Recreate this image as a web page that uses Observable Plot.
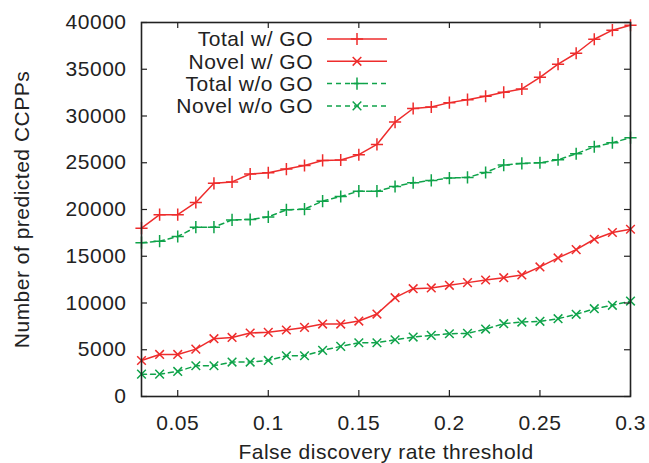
<!DOCTYPE html>
<html>
<head>
<meta charset="utf-8">
<script src="https://cdn.jsdelivr.net/npm/d3@7"></script>
<script src="https://cdn.jsdelivr.net/npm/@observablehq/plot@0.6"></script>
<style>
  html, body { margin: 0; padding: 0; background: #fff; }
  svg { font-family: "Liberation Sans", Arial, sans-serif; }
</style>
</head>
<body>
<div id="chart"></div>
<script>
const fdr = [0.03,0.04,0.05,0.06,0.07,0.08,0.09,0.10,0.11,0.12,0.13,0.14,0.15,0.16,0.17,0.18,0.19,0.20,0.21,0.22,0.23,0.24,0.25,0.26,0.27,0.28,0.29,0.30];
const totalWithGO = [18000,19450,19450,20750,22800,22950,23800,23930,24320,24710,25250,25290,25860,26960,29350,30800,30960,31430,31750,32110,32540,32890,34140,35540,36710,38210,39180,39710];
const novelWithGO = [3850,4500,4500,5070,6180,6320,6790,6860,7110,7390,7750,7750,8070,8820,10570,11530,11610,11890,12180,12460,12710,13000,13860,14820,15710,16820,17540,17890];
const totalWithoutGO = [16450,16610,17110,18110,18110,18890,18930,19210,19960,20040,20890,21390,21960,21960,22460,22860,23110,23360,23430,23960,24750,24930,25000,25320,25960,26710,27140,27680];
const novelWithoutGO = [2390,2390,2680,3290,3290,3680,3680,3860,4360,4360,4930,5360,5750,5750,6070,6360,6540,6710,6750,7210,7790,7960,8040,8320,8790,9390,9750,10210];

const seriesNames = ["Total w/ GO", "Novel w/ GO", "Total w/o GO", "Novel w/o GO"];
const xTicks = [0.05, 0.1, 0.15, 0.2, 0.25, 0.3];
const xTickLabels = ["0.05", "0.1", "0.15", "0.2", "0.25", "0.3"];
const yTicks = [0,5000,10000,15000,20000,25000,30000,35000,40000];
const xLabel = "False discovery rate threshold";
const yLabel = "Number of predicted CCPPs";

const RED = "#ee2c2c";
const GREEN = "#0fa34a";
const styles = [
  {color: RED, dash: null, symbol: "plus"},
  {color: RED, dash: null, symbol: "times"},
  {color: GREEN, dash: "5,4", symbol: "plus"},
  {color: GREEN, dash: "5,4", symbol: "times"}
];
const valuesList = [totalWithGO, novelWithGO, totalWithoutGO, novelWithoutGO];
const tables = valuesList.map((vals, i) => fdr.map((x, j) => ({x, y: vals[j], series: seriesNames[i]})));

const W = 649, H = 463;
const mL = 141, mR = 19, mT = 22, mB = 67;
const innerW = W - mL - mR, innerH = H - mT - mB;
const TICK = 6;
const FS = 21;
const LS = "0.5px";

const marks = [];
tables.forEach((t, i) => {
  const s = styles[i];
  marks.push(Plot.line(t, {x: "x", y: "y", stroke: s.color, strokeWidth: 1.5, strokeDasharray: s.dash}));
  marks.push(Plot.dot(t, {x: "x", y: "y", stroke: s.color, symbol: () => s.symbol, r: 4, strokeWidth: 1.5}));
});

// inward ticks on all four sides
marks.push(Plot.ruleX(xTicks, {x: d => d, insetTop: innerH - TICK, stroke: "#222", strokeWidth: 1.2}));
marks.push(Plot.ruleX(xTicks, {x: d => d, insetBottom: innerH - TICK, stroke: "#222", strokeWidth: 1.2}));
marks.push(Plot.ruleY(yTicks, {y: d => d, insetRight: innerW - TICK, stroke: "#222", strokeWidth: 1.2}));
marks.push(Plot.ruleY(yTicks, {y: d => d, insetLeft: innerW - TICK, stroke: "#222", strokeWidth: 1.2}));
marks.push(Plot.frame({stroke: "#222", strokeWidth: 1.6}));

marks.push(Plot.axisX(xTicks, {tickSize: 0, tickPadding: 19, tickFormat: (d, i) => xTickLabels[i], label: null, fontSize: FS}));
marks.push(Plot.axisY(yTicks, {tickSize: 0, tickPadding: 15, tickFormat: d => String(d), label: null, fontSize: FS}));
marks.push(Plot.text([xLabel], {text: d => d, frameAnchor: "bottom", textAnchor: "middle", dy: 62, fontSize: FS, fill: "#222"}));
marks.push(Plot.text([yLabel], {text: d => d, frameAnchor: "left", textAnchor: "middle", dx: -119, rotate: -90, fontSize: FS, fill: "#222"}));

const chart = Plot.plot({
  width: W, height: H,
  marginLeft: mL, marginRight: mR, marginTop: mT, marginBottom: mB,
  x: {domain: [0.03, 0.3]},
  y: {domain: [0, 40000]},
  style: {fontFamily: "'Liberation Sans', Arial, sans-serif", fontSize: FS + "px", color: "#222", background: "#fff", letterSpacing: LS},
  marks
});
document.getElementById("chart").appendChild(chart);

// legend (inside plot, top-left)
const svg = d3.select(chart);
const lg = svg.append("g").attr("class", "legend");
seriesNames.forEach((name, i) => {
  const s = styles[i];
  const cy = 39 + i * 22.3;
  lg.append("text").attr("x", 313).attr("y", cy).attr("dy", "0.35em").attr("text-anchor", "end")
    .attr("font-size", FS).attr("letter-spacing", LS).attr("fill", "#222").text(name);
  lg.append("line").attr("x1", 327).attr("x2", 387).attr("y1", cy).attr("y2", cy)
    .attr("stroke", s.color).attr("stroke-width", 1.5).attr("stroke-dasharray", s.dash);
  const sym = s.symbol === "plus" ? d3.symbolPlus : d3.symbolTimes;
  lg.append("path").attr("transform", `translate(357,${cy})`).attr("d", d3.symbol(sym, Math.PI * 16)())
    .attr("fill", "none").attr("stroke", s.color).attr("stroke-width", 1.5);
});
</script>
</body>
</html>
